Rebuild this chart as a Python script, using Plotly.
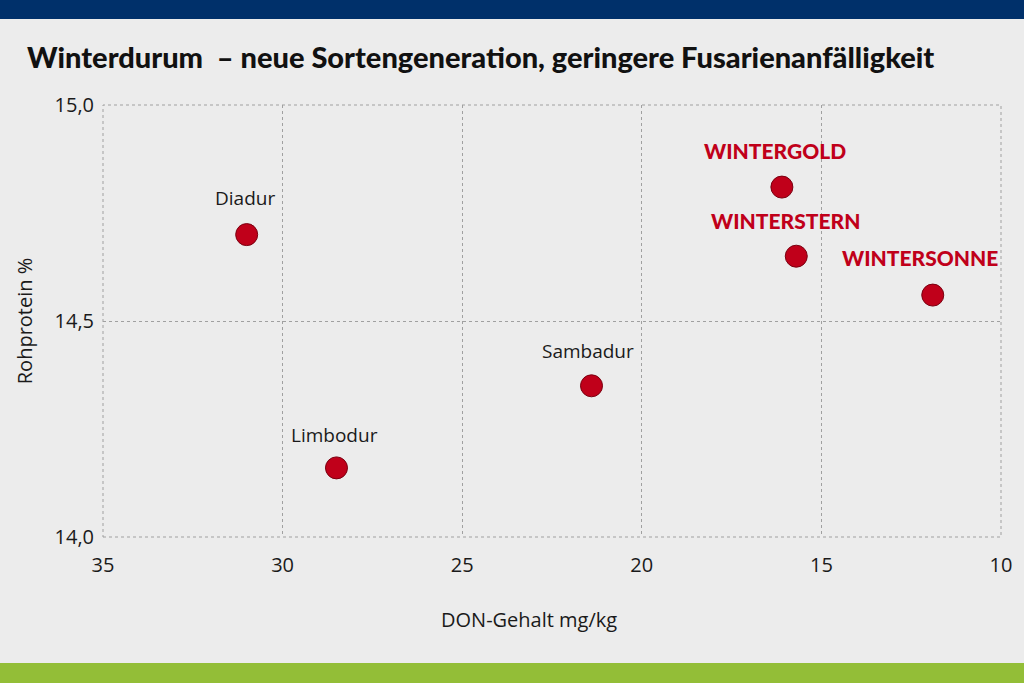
import plotly.graph_objects as go

# values
varieties = ["Diadur", "Limbodur", "Sambadur", "WINTERGOLD", "WINTERSTERN", "WINTERSONNE"]
don_mg_kg = [31.0, 28.5, 21.4, 16.1, 15.7, 11.9]
rohprotein = [14.70, 14.16, 14.35, 14.81, 14.65, 14.56]
is_new = [False, False, False, True, True, True]

x_ticks = [35, 30, 25, 20, 15, 10]
y_ticks = [14.0, 14.5, 15.0]
y_tick_text = ["14,0", "14,5", "15,0"]

# label offsets in pixels (style only)
label_dx = [-2, -2, -4, -7, -11, -13]
label_dy = [37, 33, 35, 37, 36, 38]

RED = "#c0001a"
BG = "#ececec"
FONT = "Open Sans, Noto Sans, sans-serif"

fig = go.Figure()
fig.add_trace(
    go.Scatter(
        x=don_mg_kg,
        y=rohprotein,
        mode="markers",
        marker={"size": 22, "color": RED, "line": {"color": "#7a0010", "width": 1}},
        hoverinfo="skip",
        showlegend=False,
    )
)

for name, x, y, new, dx, dy in zip(varieties, don_mg_kg, rohprotein, is_new, label_dx, label_dy):
    fig.add_annotation(
        x=x,
        y=y,
        text=name,
        showarrow=False,
        xshift=dx,
        yshift=dy,
        font={
            "family": "Lato, Open Sans, sans-serif" if new else FONT,
            "size": 21 if new else 19,
            "weight": 900 if new else 400,
            "color": RED if new else "#1a1a1a",
        },
    )

fig.add_annotation(
    xref="paper", yref="paper", x=-0.087, y=1.113, xanchor="left", yanchor="middle",
    text="Winterdurum  – neue Sortengeneration, geringere Fusarienanfälligkeit",
    showarrow=False,
    font={"family": "Lato, sans-serif", "size": 29, "weight": 900, "color": "#111111"},
)
fig.add_annotation(
    xref="paper", yref="paper", x=0.474, y=-0.19, xanchor="center", yanchor="middle",
    text="DON-Gehalt mg/kg",
    showarrow=False,
    font={"family": FONT, "size": 20, "color": "#1a1a1a"},
)

# header and footer bars, dotted frame around the plot area
fig.add_shape(type="rect", xref="paper", yref="paper", x0=-0.2, x1=1.1, y0=1.199, y1=1.3,
              fillcolor="#00306a", line={"width": 0}, layer="below")
fig.add_shape(type="rect", xref="paper", yref="paper", x0=-0.2, x1=1.1, y0=-0.4, y1=-0.2917,
              fillcolor="#93be37", line={"width": 0}, layer="below")
fig.add_shape(type="rect", xref="paper", yref="paper", x0=0, x1=1, y0=0, y1=1,
              line={"color": "#a0a0a0", "width": 1, "dash": "dot"}, layer="below")

fig.update_layout(
    width=1024,
    height=683,
    paper_bgcolor=BG,
    plot_bgcolor=BG,
    margin={"l": 103, "r": 21, "t": 105, "b": 146},
    font={"family": FONT, "size": 20, "color": "#1a1a1a"},
    xaxis={
        "range": [35, 10],
        "tickvals": x_ticks,
        "showgrid": True,
        "gridcolor": "#a0a0a0",
        "griddash": "dot",
        "gridwidth": 1,
        "zeroline": False,
        "showline": False,
        "ticks": "",
        "ticklabelstandoff": 14,
        "tickfont": {"size": 20},
    },
    yaxis={
        "range": [14.0, 15.0],
        "tickvals": y_ticks,
        "ticktext": y_tick_text,
        "showgrid": True,
        "gridcolor": "#a0a0a0",
        "griddash": "dot",
        "gridwidth": 1,
        "zeroline": False,
        "showline": False,
        "ticks": "",
        "ticklabelstandoff": 8,
        "tickfont": {"size": 20},
        "title": {"text": "Rohprotein %", "font": {"size": 20}, "standoff": 16},
    },
)

fig.write_html(
    "out.html",
    config={"displayModeBar": False},
    post_script="document.body.style.margin='0';",
)
